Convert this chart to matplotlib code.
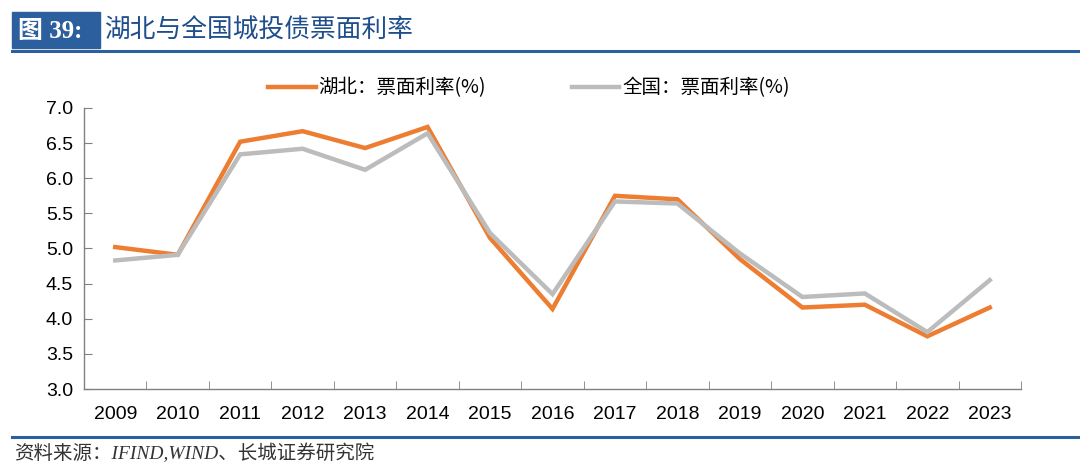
import matplotlib.pyplot as plt
from matplotlib.patches import Rectangle
from matplotlib.lines import Line2D
import numpy as np

plt.rcParams['font.family'] = ['Noto Sans CJK SC', 'DejaVu Sans']

# --- 数据 ---
years = ['2009', '2010', '2011', '2012', '2013', '2014', '2015', '2016',
         '2017', '2018', '2019', '2020', '2021', '2022', '2023']
hubei = [5.02, 4.91, 6.52, 6.67, 6.43, 6.73, 5.15, 4.14,
         5.75, 5.70, 4.85, 4.16, 4.20, 3.75, 4.16]
china = [4.83, 4.91, 6.34, 6.42, 6.12, 6.64, 5.22, 4.35,
         5.67, 5.64, 4.93, 4.31, 4.36, 3.81, 4.55]
yticks = [3.0, 3.5, 4.0, 4.5, 5.0, 5.5, 6.0, 6.5, 7.0]

label_hubei = '湖北：票面利率(%)'
label_china = '全国：票面利率(%)'
title = '湖北与全国城投债票面利率'
source = '资料来源：IFIND,WIND、长城证券研究院'

orange = '#ED7D31'
grey = '#BCBCBC'
blue = '#2C5F9E'

fig = plt.figure(figsize=(10.8, 4.73), dpi=100)
W, H = 1080, 473

# --- 标题区 ---
fig.patches.append(Rectangle((12 / W, 1 - 48 / H), 88 / W, 36 / H,
                             transform=fig.transFigure, color=blue))
fig.text(18 / W, 1 - 31 / H, '图 39:', color='white', fontsize=18,
         fontweight='bold', va='center', ha='left',
         family=['Liberation Serif', 'Noto Sans CJK SC'])
fig.text(104 / W, 1 - 31 / H, title, color='#1F4E8C', fontsize=18.5,
         va='center', ha='left')
fig.lines.append(Line2D([12 / W, 1.0], [1 - 51 / H, 1 - 51 / H],
                        transform=fig.transFigure, color=blue, lw=2.2))
fig.lines.append(Line2D([12 / W, 1.0], [1 - 437 / H, 1 - 437 / H],
                        transform=fig.transFigure, color=blue, lw=2.2))
fig.text(14 / W, 1 - 453 / H, source, fontsize=14, color='#333333',
         style='italic', va='center', ha='left',
         family=['Liberation Serif', 'Noto Sans CJK SC'])

# --- 图形 ---
ax = fig.add_axes([84 / W, 1 - 389 / H, 937 / W, 281 / H])
x = np.arange(len(years))
ax.plot(x, hubei, color=orange, lw=3.2, label=label_hubei, solid_joinstyle='miter')
ax.plot(x, china, color=grey, lw=3.2, label=label_china, solid_joinstyle='miter')

ax.set_xlim(-0.5, len(years) - 0.5)
ax.set_ylim(3.0, 7.0)
ax.set_yticks(yticks)
ax.set_yticklabels([f'{v:.1f}' for v in yticks], family='Liberation Sans')
ax.set_xticks(x)
ax.set_xticklabels(years, family='Liberation Sans')
ax.set_xticks(np.arange(-0.5, len(years), 1), minor=True)
ax.tick_params(axis='x', which='major', length=0, pad=12, labelsize=14)
ax.tick_params(axis='x', which='minor', length=6, direction='in', color='#808080')
ax.tick_params(axis='y', length=6, direction='in', color='#808080',
               labelsize=14, pad=8)

for s in ['top', 'right']:
    ax.spines[s].set_visible(False)
for s in ['left', 'bottom']:
    ax.spines[s].set_color('#808080')
    ax.spines[s].set_linewidth(1.0)

fig.legend(loc='center left', bbox_to_anchor=(268 / W, 1 - 88 / H), ncol=2,
           frameon=False, fontsize=14, handlelength=2.45, handletextpad=0.15,
           columnspacing=4.4, borderpad=0, borderaxespad=0)

fig.savefig('out.png', dpi=100)
